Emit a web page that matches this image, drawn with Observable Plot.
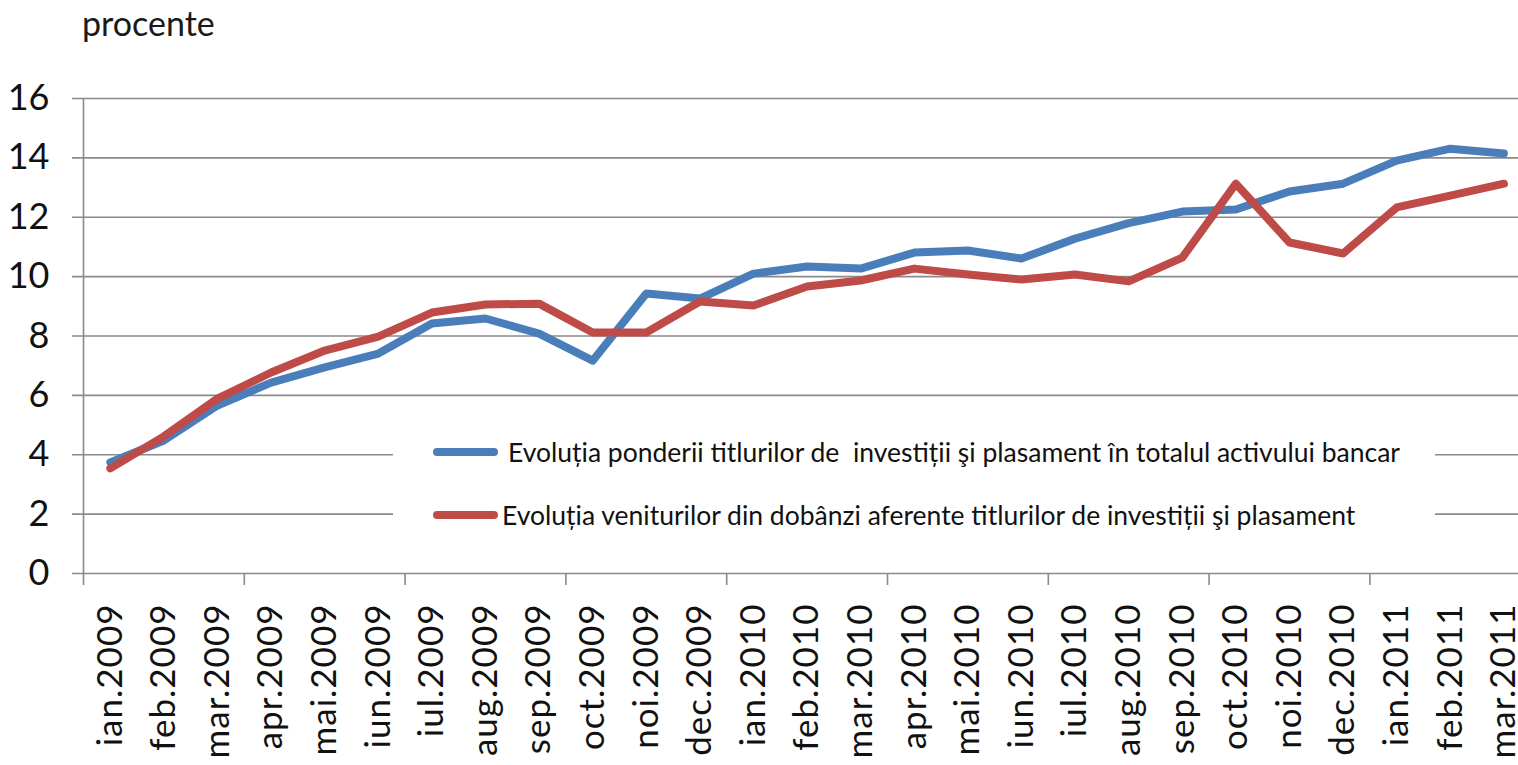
<!DOCTYPE html>
<html><head><meta charset="utf-8">
<script src="https://cdn.jsdelivr.net/npm/d3@7"></script>
<script src="https://cdn.jsdelivr.net/npm/@observablehq/plot@0.6"></script>
<style>
body{margin:0;background:#fff;}
#wrap{position:relative;width:1518px;height:765px;overflow:hidden;font-family:Lato,sans-serif;background:#fff;}
#chart{position:absolute;left:0;top:0;}
#title{position:absolute;left:82px;top:2px;font-size:34px;color:#1a1a1a;}
#legend{position:absolute;left:393px;top:420px;width:1042px;height:125px;background:#fff;}
.item{position:absolute;left:40px;height:30px;display:flex;align-items:center;white-space:pre;font-size:26.5px;color:#111;}
.sw{width:65px;height:8px;border-radius:4px;flex:none;}
g[aria-label="x-axis tick label"] text{letter-spacing:1px;}
</style></head>
<body>
<div id="wrap">
  <div id="chart"></div>
  <div id="title"></div>
  <div id="legend"></div>
</div>
<script>
const months = ["ian.2009","feb.2009","mar.2009","apr.2009","mai.2009","iun.2009","iul.2009","aug.2009","sep.2009","oct.2009","noi.2009","dec.2009","ian.2010","feb.2010","mar.2010","apr.2010","mai.2010","iun.2010","iul.2010","aug.2010","sep.2010","oct.2010","noi.2010","dec.2010","ian.2011","feb.2011","mar.2011"];
const pondere = [3.74,4.48,5.66,6.43,6.94,7.41,8.42,8.59,8.08,7.17,9.43,9.26,10.10,10.34,10.27,10.81,10.88,10.61,11.28,11.80,12.19,12.26,12.87,13.13,13.91,14.31,14.15];
const venituri = [3.54,4.62,5.89,6.77,7.51,7.98,8.79,9.06,9.09,8.12,8.12,9.16,9.03,9.67,9.87,10.27,10.07,9.90,10.07,9.84,10.64,13.13,11.15,10.78,12.33,12.73,13.13];
const yTicks = [0,2,4,6,8,10,12,14,16];
const seriesNames = ["Evoluția ponderii titlurilor de  investiții şi plasament în totalul activului bancar","Evoluția veniturilor din dobânzi aferente titlurilor de investiții şi plasament"];
const seriesColors = ["#4a7ebb","#be4b48"];
const titleText = "procente";

const idx = months.map((m,i)=>i);
const quarterEdges = d3.range(-0.5, months.length + 0.5, 3);
const blueData = idx.map(i=>({i, v: pondere[i]}));
const redData = idx.map(i=>({i, v: venituri[i]}));

const chart = Plot.plot({
  width: 1518,
  height: 765,
  marginLeft: 72,
  marginRight: 0,
  marginTop: 98,
  marginBottom: 192,
  style: {fontFamily: "Lato, sans-serif", fontSize: "35px", color: "#111", background: "transparent", overflow: "visible"},
  x: {type: "linear", domain: [-0.5, months.length - 0.5], range: [83, 83 + 53.6 * months.length], axis: null, label: null},
  y: {domain: [0, 16], axis: null, label: null},
  marks: [
    Plot.ruleY(yTicks, {stroke: "#8a8a8a", strokeWidth: 1.6}),
    Plot.ruleX([-0.5], {y1: 0, y2: 16, stroke: "#8a8a8a", strokeWidth: 1.6}),
    Plot.axisX(quarterEdges, {tickSize: 12, tickPadding: 0, stroke: "#8a8a8a", strokeWidth: 1.6, strokeOpacity: 1, tickFormat: () => "", label: null}),
    Plot.axisY({ticks: yTicks, tickSize: 0, tickPadding: 23, fontSize: 36, tickFormat: d => d, label: null}),
    Plot.axisX({ticks: idx, tickSize: 0, tickPadding: 30, tickRotate: -90, fontSize: 35, tickFormat: i => months[i], label: null}),
    Plot.line(blueData, {x: "i", y: "v", stroke: seriesColors[0], strokeWidth: 8, strokeLinejoin: "round", strokeLinecap: "round"}),
    Plot.line(redData, {x: "i", y: "v", stroke: seriesColors[1], strokeWidth: 8, strokeLinejoin: "round", strokeLinecap: "round"})
  ]
});
document.getElementById("chart").appendChild(chart);
document.getElementById("title").textContent = titleText;

const legend = document.getElementById("legend");
const tops = [17, 80];
const gaps = [10, 4];
seriesNames.forEach((name, k) => {
  const item = document.createElement("div");
  item.className = "item";
  item.style.top = tops[k] + "px";
  const sw = document.createElement("span");
  sw.className = "sw";
  sw.style.background = seriesColors[k];
  sw.style.marginRight = gaps[k] + "px";
  const t = document.createElement("span");
  t.textContent = name;
  item.appendChild(sw);
  item.appendChild(t);
  legend.appendChild(item);
});
</script>
</body></html>
